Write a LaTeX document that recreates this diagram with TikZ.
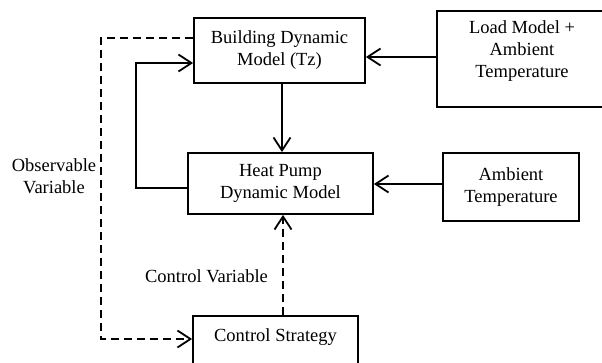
\documentclass[tikz,border=0pt]{standalone}
\usepackage{fontspec}
\setmainfont{Liberation Serif}
\usetikzlibrary{arrows.meta}
\begin{document}
\begin{tikzpicture}[x=1pt,y=-1pt,
  box/.style={draw,line width=1.8pt,inner sep=0pt,align=center,font=\fontsize{18.5}{22}\selectfont},
  txt/.style={inner sep=0pt,align=center,font=\fontsize{18.5}{22}\selectfont},
  arr/.style={line width=1.8pt,-{Straight Barb[length=13pt,width=17pt,line width=1.8pt]}},
  dsh/.style={arr,dash pattern=on 8pt off 5pt}]
\useasboundingbox (0,0) rectangle (602,362);
\fill[white] (0,0) rectangle (602,362);
\node[box,minimum width=171pt,minimum height=65pt] (bld) at (279.5,50.5) {Building Dynamic\\Model (Tz)};
\node[box,minimum width=170pt,minimum height=96pt] (load) at (522,59) {};
\node[txt] (loadt) at (522,51) {Load Model +\\Ambient\\Temperature};
\node[box,minimum width=185pt,minimum height=61pt] (hp) at (280.5,183.5) {Heat Pump\\Dynamic Model};
\node[box,minimum width=136pt,minimum height=68pt] (amb) at (511,187) {Ambient\\Temperature};
\node[box,minimum width=165pt,minimum height=52pt] (cs) at (275.5,342) {};
\node[txt] (cst) at (275.5,337) {Control Strategy};
\node[txt] (obs) at (54,176) {Observable\\Variable};
\node[txt] (cv) at (206.5,276) {Control Variable};
\coordinate (y57) at (0,57);
\coordinate (y184) at (0,184);
\coordinate (fb1) at (136,188);
\coordinate (fb2) at (136,63);
\coordinate (ob1) at (101,38);
\coordinate (ob2) at (101,339);
\coordinate (x283) at (283,0);
\coordinate (x282) at (282,0);
\draw[arr] (load.west |- y57) -- (bld.east |- y57);
\draw[arr] (amb.west |- y184) -- (hp.east |- y184);
\draw[arr] (bld.south -| x282) -- (hp.north -| x282);
\draw[arr] (hp.west |- fb1) -- (fb1) -- (fb2) -- (bld.west |- fb2);
\draw[dsh] (bld.west |- ob1) -- (ob1) -- (ob2) -- (cs.west |- ob2);
\draw[dsh] (cs.north -| x283) -- (hp.south -| x283);
\end{tikzpicture}
\end{document}
